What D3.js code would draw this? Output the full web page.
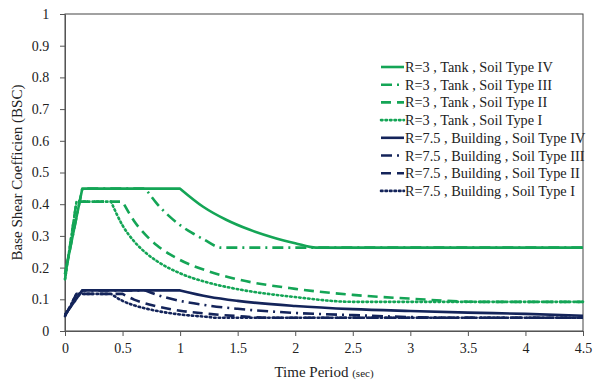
<!DOCTYPE html>
<html lang="en">
<head>
<meta charset="UTF-8">
<title>Base shear coefficient</title>
<style>
  body { margin: 0; background: #fff; }
  text { font-family: "Liberation Serif", "Times New Roman", serif; fill: #222; }
</style>
</head>
<body>
<div id="root"></div>
<script src="https://cdn.jsdelivr.net/npm/d3@7"></script>
<script>
// values
const xTicks = [0, 0.5, 1, 1.5, 2, 2.5, 3, 3.5, 4, 4.5]
const yTicks = [0, 0.1, 0.2, 0.3, 0.4, 0.5, 0.6, 0.7, 0.8, 0.9, 1]

const tank4T = [0, 0.15, 1.0, 1.2, 1.4, 1.6, 1.8, 2.0, 2.18, 4.5]
const tank4V = [0.180, 0.449, 0.449, 0.392, 0.351, 0.320, 0.296, 0.277, 0.263, 0.263]

const tank3T = [0, 0.15, 0.7, 0.8, 0.9, 1.0, 1.1, 1.2, 1.36, 4.5]
const tank3V = [0.180, 0.449, 0.449, 0.401, 0.364, 0.334, 0.310, 0.290, 0.263, 0.263]

const tank2T = [0, 0.1, 0.5, 0.6, 0.7, 0.8, 1.0, 1.25, 1.5, 2.0, 2.5, 3.0, 3.6, 4.5]
const tank2V = [0.163, 0.408, 0.408, 0.347, 0.303, 0.270, 0.224, 0.188, 0.163, 0.133, 0.114, 0.102, 0.092, 0.092]

const tank1T = [0, 0.1, 0.4, 0.5, 0.6, 0.7, 0.8, 1.0, 1.25, 1.5, 2.0, 2.5, 4.5]
const tank1V = [0.163, 0.408, 0.408, 0.333, 0.283, 0.247, 0.220, 0.182, 0.152, 0.132, 0.107, 0.092, 0.092]

const bld4T = [0, 0.15, 1.0, 1.25, 1.5, 2.0, 2.5, 3.0, 3.5, 4.0, 4.5]
const bld4V = [0.051, 0.128, 0.128, 0.108, 0.095, 0.079, 0.069, 0.063, 0.058, 0.054, 0.048]

const bld3T = [0, 0.15, 0.7, 0.8, 1.0, 1.25, 1.5, 2.0, 2.5, 3.0, 3.3, 4.5]
const bld3V = [0.051, 0.128, 0.128, 0.114, 0.095, 0.080, 0.070, 0.057, 0.050, 0.044, 0.042, 0.042]

const bld2T = [0, 0.1, 0.5, 0.6, 0.75, 1.0, 1.25, 1.5, 1.75, 4.5]
const bld2V = [0.047, 0.117, 0.117, 0.099, 0.082, 0.064, 0.054, 0.047, 0.042, 0.042]

const bld1T = [0, 0.1, 0.4, 0.5, 0.6, 0.75, 1.0, 1.25, 1.3, 4.5]
const bld1V = [0.047, 0.117, 0.117, 0.095, 0.081, 0.067, 0.052, 0.044, 0.042, 0.042]

const green = "#14a556"
const navy = "#14245a"

const dashDot = "11,5,2,5"
const dashed = "10,6"
const dotted = "1.5,3"

const series = [
  {name: "R=3 , Tank , Soil Type IV", t: tank4T, v: tank4V, color: green, dash: null},
  {name: "R=3 , Tank , Soil Type III", t: tank3T, v: tank3V, color: green, dash: dashDot},
  {name: "R=3 , Tank , Soil Type II", t: tank2T, v: tank2V, color: green, dash: dashed},
  {name: "R=3 , Tank , Soil Type I", t: tank1T, v: tank1V, color: green, dash: dotted},
  {name: "R=7.5 , Building , Soil Type IV", t: bld4T, v: bld4V, color: navy, dash: null},
  {name: "R=7.5 , Building , Soil Type III", t: bld3T, v: bld3V, color: navy, dash: dashDot},
  {name: "R=7.5 , Building , Soil Type II", t: bld2T, v: bld2V, color: navy, dash: dashed},
  {name: "R=7.5 , Building , Soil Type I", t: bld1T, v: bld1V, color: navy, dash: dotted}
]

const W = 595, H = 381
const margin = {top: 14, right: 12, bottom: 50, left: 65}
const width = W - margin.left - margin.right
const height = H - margin.top - margin.bottom

const svg = d3.select("#root").append("svg")
  .attr("width", W)
  .attr("height", H)

const g = svg.append("g")
  .attr("transform", `translate(${margin.left},${margin.top})`)

const x = d3.scaleLinear().domain([0, 4.5]).range([0, width])
const y = d3.scaleLinear().domain([0, 1]).range([height, 0])

// plot area border
g.append("rect")
  .attr("width", width)
  .attr("height", height)
  .attr("fill", "none")
  .attr("stroke", "#444")
  .attr("stroke-width", 1)

const xAxis = g.append("g")
  .attr("transform", `translate(0,${height})`)
  .call(d3.axisBottom(x).tickValues(xTicks).tickSize(5).tickSizeOuter(0).tickFormat(d3.format("")))
const yAxis = g.append("g")
  .call(d3.axisLeft(y).tickValues(yTicks).tickSize(5).tickSizeOuter(0).tickFormat(d3.format("")))

for (const ax of [xAxis, yAxis]) {
  ax.select(".domain").attr("stroke", "#555")
  ax.selectAll(".tick line").attr("stroke", "#555")
  ax.selectAll(".tick text")
    .style("font-family", "'Liberation Serif', serif")
    .style("font-size", "14px")
    .attr("fill", "#222")
}
xAxis.selectAll(".tick text").attr("dy", "1.0em")
yAxis.selectAll(".tick text").attr("dx", "-0.55em")

// ramp and plateau are straight, the decay part is a smooth curve
const straight = d3.line()
  .x(d => x(d[0]))
  .y(d => y(d[1]))
const smooth = d3.line()
  .x(d => x(d[0]))
  .y(d => y(d[1]))
  .curve(d3.curveMonotoneX)

function seriesPath(s) {
  const pts = d3.zip(s.t, s.v)
  const head = straight(pts.slice(0, 3))
  const tail = smooth(pts.slice(2)).replace(/^M[^LC]*/, "")
  return head + tail
}

// draw tanks last so the green sits above the navy, like the reference
const drawOrder = [7, 6, 5, 4, 3, 2, 1, 0]
g.selectAll("path.series")
  .data(drawOrder.map(i => series[i]))
  .join("path")
  .attr("class", "series")
  .attr("d", seriesPath)
  .attr("fill", "none")
  .attr("stroke", s => s.color)
  .attr("stroke-width", 2.6)
  .attr("stroke-linejoin", "round")
  .attr("stroke-dasharray", s => s.dash)
  .attr("stroke-linecap", s => s.dash === dotted ? "round" : "butt")

// legend
const legend = svg.append("g").attr("transform", "translate(381,67)")
const rows = legend.selectAll("g")
  .data(series)
  .join("g")
  .attr("transform", (d, i) => `translate(0,${i * 17.7})`)
rows.append("line")
  .attr("x1", 0).attr("x2", 23)
  .attr("stroke", d => d.color)
  .attr("stroke-width", 2.6)
  .attr("stroke-dasharray", d => d.dash)
  .attr("stroke-linecap", d => d.dash === dotted ? "round" : "butt")
rows.append("text")
  .attr("x", 24)
  .attr("dy", "0.35em")
  .style("font-size", "14.3px")
  .text(d => d.name)

// axis titles
const xt = svg.append("text")
  .attr("x", margin.left + width / 2)
  .attr("y", 377)
  .attr("text-anchor", "middle")
  .style("font-size", "15px")
xt.append("tspan").text("Time Period ")
xt.append("tspan").style("font-size", "11px").text("(sec)")

svg.append("text")
  .attr("transform", `translate(22,${margin.top + height / 2}) rotate(-90)`)
  .attr("text-anchor", "middle")
  .style("font-size", "15px")
  .text("Base Shear Coefficien (BSC)")
</script>
</body>
</html>
